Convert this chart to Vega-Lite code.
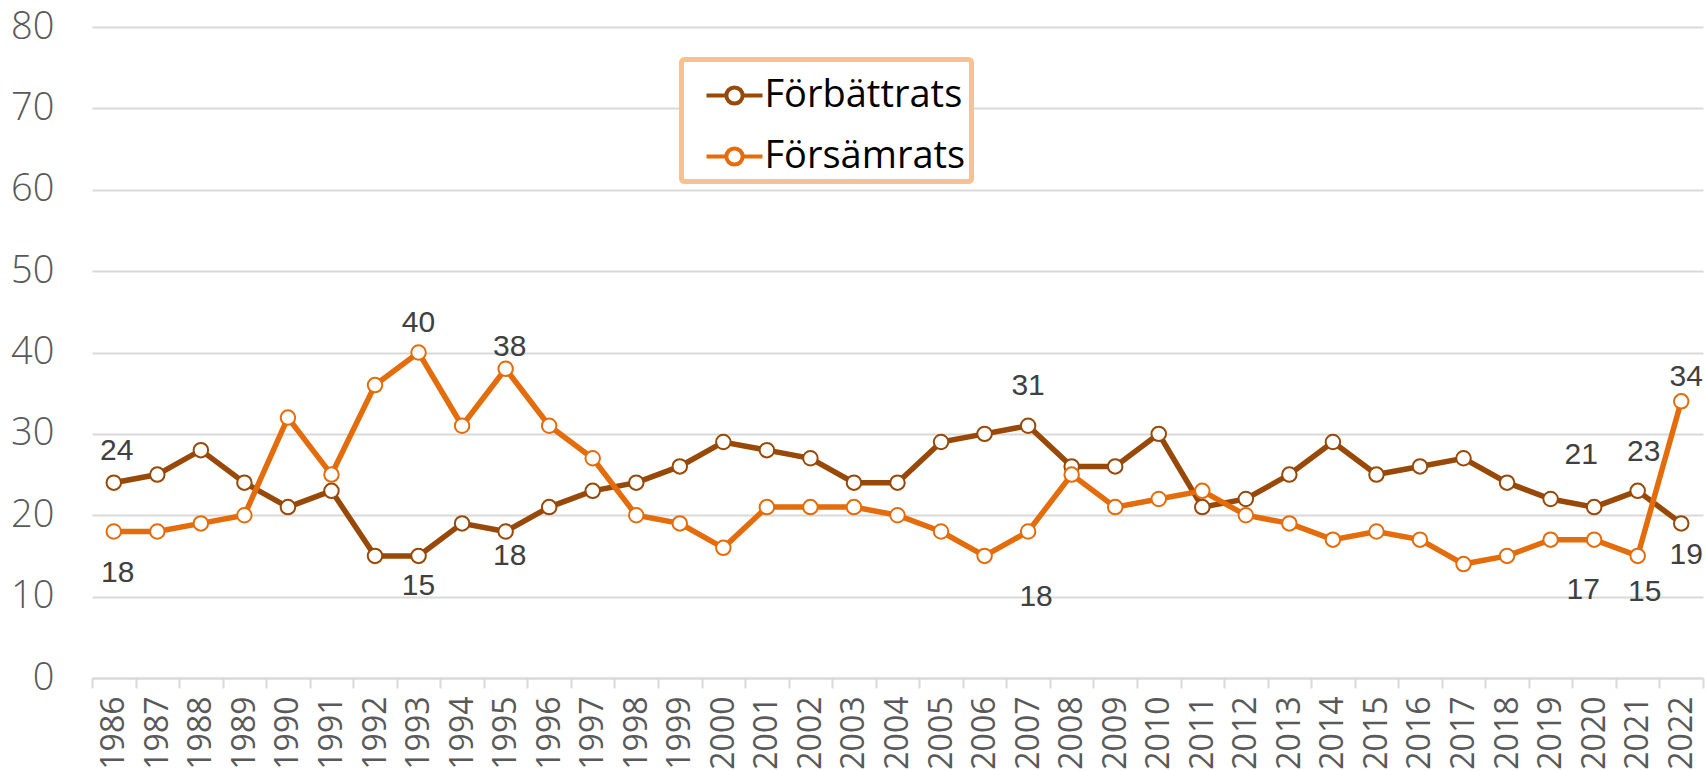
{
  "$schema": "https://vega.github.io/schema/vega-lite/v6.json",
  "width": 1611,
  "height": 651,
  "autosize": {"type": "none"},
  "padding": {"left": 92, "top": 27, "right": 2, "bottom": 93},
  "background": "white",
  "config": {"view": {"stroke": null}, "font": "Open Sans"},
  "data": {"values": [
    {"year": 1986, "series": "Förbättrats", "value": 24},
    {"year": 1987, "series": "Förbättrats", "value": 25},
    {"year": 1988, "series": "Förbättrats", "value": 28},
    {"year": 1989, "series": "Förbättrats", "value": 24},
    {"year": 1990, "series": "Förbättrats", "value": 21},
    {"year": 1991, "series": "Förbättrats", "value": 23},
    {"year": 1992, "series": "Förbättrats", "value": 15},
    {"year": 1993, "series": "Förbättrats", "value": 15},
    {"year": 1994, "series": "Förbättrats", "value": 19},
    {"year": 1995, "series": "Förbättrats", "value": 18},
    {"year": 1996, "series": "Förbättrats", "value": 21},
    {"year": 1997, "series": "Förbättrats", "value": 23},
    {"year": 1998, "series": "Förbättrats", "value": 24},
    {"year": 1999, "series": "Förbättrats", "value": 26},
    {"year": 2000, "series": "Förbättrats", "value": 29},
    {"year": 2001, "series": "Förbättrats", "value": 28},
    {"year": 2002, "series": "Förbättrats", "value": 27},
    {"year": 2003, "series": "Förbättrats", "value": 24},
    {"year": 2004, "series": "Förbättrats", "value": 24},
    {"year": 2005, "series": "Förbättrats", "value": 29},
    {"year": 2006, "series": "Förbättrats", "value": 30},
    {"year": 2007, "series": "Förbättrats", "value": 31},
    {"year": 2008, "series": "Förbättrats", "value": 26},
    {"year": 2009, "series": "Förbättrats", "value": 26},
    {"year": 2010, "series": "Förbättrats", "value": 30},
    {"year": 2011, "series": "Förbättrats", "value": 21},
    {"year": 2012, "series": "Förbättrats", "value": 22},
    {"year": 2013, "series": "Förbättrats", "value": 25},
    {"year": 2014, "series": "Förbättrats", "value": 29},
    {"year": 2015, "series": "Förbättrats", "value": 25},
    {"year": 2016, "series": "Förbättrats", "value": 26},
    {"year": 2017, "series": "Förbättrats", "value": 27},
    {"year": 2018, "series": "Förbättrats", "value": 24},
    {"year": 2019, "series": "Förbättrats", "value": 22},
    {"year": 2020, "series": "Förbättrats", "value": 21},
    {"year": 2021, "series": "Förbättrats", "value": 23},
    {"year": 2022, "series": "Förbättrats", "value": 19},
    {"year": 1986, "series": "Försämrats", "value": 18},
    {"year": 1987, "series": "Försämrats", "value": 18},
    {"year": 1988, "series": "Försämrats", "value": 19},
    {"year": 1989, "series": "Försämrats", "value": 20},
    {"year": 1990, "series": "Försämrats", "value": 32},
    {"year": 1991, "series": "Försämrats", "value": 25},
    {"year": 1992, "series": "Försämrats", "value": 36},
    {"year": 1993, "series": "Försämrats", "value": 40},
    {"year": 1994, "series": "Försämrats", "value": 31},
    {"year": 1995, "series": "Försämrats", "value": 38},
    {"year": 1996, "series": "Försämrats", "value": 31},
    {"year": 1997, "series": "Försämrats", "value": 27},
    {"year": 1998, "series": "Försämrats", "value": 20},
    {"year": 1999, "series": "Försämrats", "value": 19},
    {"year": 2000, "series": "Försämrats", "value": 16},
    {"year": 2001, "series": "Försämrats", "value": 21},
    {"year": 2002, "series": "Försämrats", "value": 21},
    {"year": 2003, "series": "Försämrats", "value": 21},
    {"year": 2004, "series": "Försämrats", "value": 20},
    {"year": 2005, "series": "Försämrats", "value": 18},
    {"year": 2006, "series": "Försämrats", "value": 15},
    {"year": 2007, "series": "Försämrats", "value": 18},
    {"year": 2008, "series": "Försämrats", "value": 25},
    {"year": 2009, "series": "Försämrats", "value": 21},
    {"year": 2010, "series": "Försämrats", "value": 22},
    {"year": 2011, "series": "Försämrats", "value": 23},
    {"year": 2012, "series": "Försämrats", "value": 20},
    {"year": 2013, "series": "Försämrats", "value": 19},
    {"year": 2014, "series": "Försämrats", "value": 17},
    {"year": 2015, "series": "Försämrats", "value": 18},
    {"year": 2016, "series": "Försämrats", "value": 17},
    {"year": 2017, "series": "Försämrats", "value": 14},
    {"year": 2018, "series": "Försämrats", "value": 15},
    {"year": 2019, "series": "Försämrats", "value": 17},
    {"year": 2020, "series": "Försämrats", "value": 17},
    {"year": 2021, "series": "Försämrats", "value": 15},
    {"year": 2022, "series": "Försämrats", "value": 34}
  ]},
  "encoding": {
    "x": {
      "field": "year", "type": "ordinal", "bandPosition": 0.5,
      "scale": {"type": "band", "paddingInner": 0, "paddingOuter": 0},
      "axis": {
        "title": null, "labelAngle": 270, "labelFontSize": 32, "labelColor": "#595959",
        "labelFont": "Open Sans", "domainColor": "#D9D9D9", "domainWidth": 2,
        "tickColor": "#D9D9D9", "tickWidth": 2, "tickSize": 10, "tickBand": "extent",
        "labelPadding": 8, "grid": false
      }
    },
    "y": {
      "field": "value", "type": "quantitative",
      "scale": {"domain": [0, 80], "nice": false},
      "axis": {
        "title": null, "values": [0, 10, 20, 30, 40, 50, 60, 70, 80], "domain": false, "ticks": false,
        "labelFontSize": 38, "labelColor": "#595959", "labelFont": "Open Sans", "labelFontWeight": 300,
        "labelPadding": 38, "gridColor": "#D9D9D9", "gridWidth": 2
      }
    }
  },
  "layer": [
    {
      "mark": {"type": "line", "strokeWidth": 5.5},
      "encoding": {
        "stroke": {
          "field": "series", "type": "nominal",
          "scale": {"domain": ["Förbättrats", "Försämrats"], "range": ["#984807", "#E46C0A"]},
          "legend": {
            "title": null, "orient": "none", "legendX": 589.5, "legendY": 32.5,
            "symbolType": "M-1,0L-0.29,0M0.29,0L1,0M-0.29,0A0.29,0.29 0 1,1 0.29,0A0.29,0.29 0 1,1 -0.29,0Z",
            "symbolSize": 3136, "symbolStrokeWidth": 4, "symbolFillColor": "white",
            "symbolOffset": 17, "labelOffset": 0,
            "labelFontSize": 38, "labelFont": "Open Sans", "labelColor": "black", "labelLimit": 400,
            "padding": 6, "rowPadding": 12, "strokeColor": "#FAC090", "cornerRadius": 3, "fillColor": "white",
            "encode": {
              "legend": {"update": {"strokeWidth": {"value": 5}}},
              "symbols": {"update": {"fill": {"value": "white"}}}
            }
          }
        }
      }
    },
    {
      "mark": {"type": "point", "filled": true, "fill": "white", "size": 210, "strokeWidth": 2, "opacity": 1},
      "encoding": {
        "stroke": {
          "field": "series", "type": "nominal",
          "scale": {"domain": ["Förbättrats", "Försämrats"], "range": ["#984807", "#E46C0A"]},
          "legend": {
            "title": null, "orient": "none", "legendX": 589.5, "legendY": 32.5,
            "symbolType": "M-1,0L-0.29,0M0.29,0L1,0M-0.29,0A0.29,0.29 0 1,1 0.29,0A0.29,0.29 0 1,1 -0.29,0Z",
            "symbolSize": 3136, "symbolStrokeWidth": 4, "symbolFillColor": "white",
            "symbolOffset": 17, "labelOffset": 0,
            "labelFontSize": 38, "labelFont": "Open Sans", "labelColor": "black", "labelLimit": 400,
            "padding": 6, "rowPadding": 12, "strokeColor": "#FAC090", "cornerRadius": 3, "fillColor": "white",
            "encode": {
              "legend": {"update": {"strokeWidth": {"value": 5}}},
              "symbols": {"update": {"fill": {"value": "white"}}}
            }
          }
        }
      }
    },
    {"transform": [{"filter": "datum.series == 'Förbättrats' && datum.year == 1986"}],
     "mark": {"type": "text", "dx": 3, "dy": -32, "fontSize": 30, "font": "Liberation Sans", "color": "#404040"},
     "encoding": {"text": {"field": "value", "type": "quantitative"}}},
    {"transform": [{"filter": "datum.series == 'Försämrats' && datum.year == 1986"}],
     "mark": {"type": "text", "dx": 4, "dy": 41, "fontSize": 30, "font": "Liberation Sans", "color": "#404040"},
     "encoding": {"text": {"field": "value", "type": "quantitative"}}},
    {"transform": [{"filter": "datum.series == 'Försämrats' && datum.year == 1993"}],
     "mark": {"type": "text", "dx": 0, "dy": -30, "fontSize": 30, "font": "Liberation Sans", "color": "#404040"},
     "encoding": {"text": {"field": "value", "type": "quantitative"}}},
    {"transform": [{"filter": "datum.series == 'Förbättrats' && datum.year == 1993"}],
     "mark": {"type": "text", "dx": 0, "dy": 30, "fontSize": 30, "font": "Liberation Sans", "color": "#404040"},
     "encoding": {"text": {"field": "value", "type": "quantitative"}}},
    {"transform": [{"filter": "datum.series == 'Försämrats' && datum.year == 1995"}],
     "mark": {"type": "text", "dx": 4, "dy": -22, "fontSize": 30, "font": "Liberation Sans", "color": "#404040"},
     "encoding": {"text": {"field": "value", "type": "quantitative"}}},
    {"transform": [{"filter": "datum.series == 'Förbättrats' && datum.year == 1995"}],
     "mark": {"type": "text", "dx": 4, "dy": 24, "fontSize": 30, "font": "Liberation Sans", "color": "#404040"},
     "encoding": {"text": {"field": "value", "type": "quantitative"}}},
    {"transform": [{"filter": "datum.series == 'Förbättrats' && datum.year == 2007"}],
     "mark": {"type": "text", "dx": 0, "dy": -40, "fontSize": 30, "font": "Liberation Sans", "color": "#404040"},
     "encoding": {"text": {"field": "value", "type": "quantitative"}}},
    {"transform": [{"filter": "datum.series == 'Försämrats' && datum.year == 2007"}],
     "mark": {"type": "text", "dx": 8, "dy": 65, "fontSize": 30, "font": "Liberation Sans", "color": "#404040"},
     "encoding": {"text": {"field": "value", "type": "quantitative"}}},
    {"transform": [{"filter": "datum.series == 'Förbättrats' && datum.year == 2020"}],
     "mark": {"type": "text", "dx": -13, "dy": -52, "fontSize": 30, "font": "Liberation Sans", "color": "#404040"},
     "encoding": {"text": {"field": "value", "type": "quantitative"}}},
    {"transform": [{"filter": "datum.series == 'Försämrats' && datum.year == 2020"}],
     "mark": {"type": "text", "dx": -11, "dy": 50, "fontSize": 30, "font": "Liberation Sans", "color": "#404040"},
     "encoding": {"text": {"field": "value", "type": "quantitative"}}},
    {"transform": [{"filter": "datum.series == 'Förbättrats' && datum.year == 2021"}],
     "mark": {"type": "text", "dx": 6, "dy": -39, "fontSize": 30, "font": "Liberation Sans", "color": "#404040"},
     "encoding": {"text": {"field": "value", "type": "quantitative"}}},
    {"transform": [{"filter": "datum.series == 'Försämrats' && datum.year == 2021"}],
     "mark": {"type": "text", "dx": 7, "dy": 36, "fontSize": 30, "font": "Liberation Sans", "color": "#404040"},
     "encoding": {"text": {"field": "value", "type": "quantitative"}}},
    {"transform": [{"filter": "datum.series == 'Försämrats' && datum.year == 2022"}],
     "mark": {"type": "text", "dx": 5, "dy": -24, "fontSize": 30, "font": "Liberation Sans", "color": "#404040"},
     "encoding": {"text": {"field": "value", "type": "quantitative"}}},
    {"transform": [{"filter": "datum.series == 'Förbättrats' && datum.year == 2022"}],
     "mark": {"type": "text", "dx": 5, "dy": 32, "fontSize": 30, "font": "Liberation Sans", "color": "#404040"},
     "encoding": {"text": {"field": "value", "type": "quantitative"}}}
  ]
}
